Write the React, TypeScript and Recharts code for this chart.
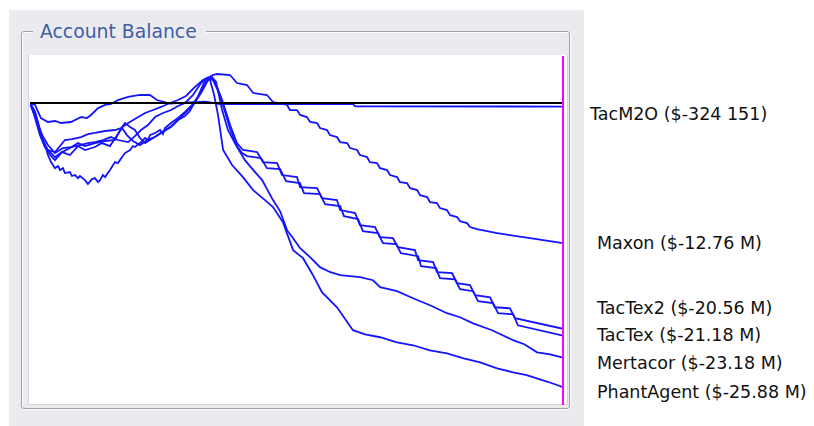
import React from 'react';
import { LineChart, Line, XAxis, YAxis, ReferenceLine } from 'recharts';

// ---- data (day of game, account balance in $ millions) ----
const seriesNames = ['TacM2O', 'Maxon', 'TacTex2', 'TacTex', 'Mertacor', 'PhantAgent'];
const finalBalances = ['$-324 151', '$-12.76 M', '$-20.56 M', '$-21.18 M', '$-23.18 M', '$-25.88 M'];
const gameDays = [0, 220];

const tacM2O: [number, number][] = [
  [0, 0], [2.1, -0.18], [4.5, -1.37], [7.4, -1.73], [10.3, -1.64], [12.8, -1.82], [16.9, -1.73],
  [21.1, -1.28], [23.5, -1.37], [25.2, -1.09], [28.1, -0.46], [31.0, -0.18], [33.5, -0.09],
  [36.3, 0.27], [40.5, 0.55], [45.4, 0.73], [49.5, 0.73], [52.4, 0.27], [57.8, -0.05], [66.0, 0.05],
  [72.2, 0.12], [78.4, -0.09], [133.3, -0.09], [134.2, -0.3], [220, -0.324],
];

const maxon: [number, number][] = [
  [0, 0], [2.1, -1.09], [4.1, -2.73], [6.2, -4.01], [8.3, -4.47], [10.3, -4.92], [13.2, -4.47],
  [16.5, -4.1], [19.8, -3.65], [22.7, -3.92], [26.8, -3.65], [31.0, -3.46], [35.1, -3.37],
  [37.2, -2.46], [39.2, -1.82], [41.3, -2.19], [43.3, -2.46], [45.4, -3.19], [47.5, -3.65],
  [50.8, -3.19], [54.1, -2.73], [58.2, -2.19], [61.1, -1.55], [64.0, -0.91], [67.3, -0.18],
  [70.6, 0.91], [73.5, 2.1], [75.5, 2.55], [77.2, 2.64], [82.6, 2.55], [85.4, 1.82], [89.6, 1.64],
  [92.1, 0.91], [97.8, 0.73], [100.3, 0.09], [106.1, -0.18], [107.3, -0.64], [110.2, -0.64],
  [111.5, -1.09], [114.3, -1.28], [115.6, -1.73], [118.5, -1.82], [119.7, -2.28], [122.6, -2.46],
  [123.8, -2.92], [126.7, -3.1], [128.0, -3.56], [130.9, -3.65], [132.1, -4.1], [135.0, -4.28],
  [136.2, -4.74], [139.1, -4.92], [140.3, -5.38], [143.2, -5.47], [144.5, -5.93], [147.4, -6.11],
  [148.6, -6.56], [151.5, -6.75], [152.7, -7.2], [155.6, -7.29], [156.9, -7.75], [159.8, -7.93],
  [161.0, -8.39], [163.9, -8.57], [165.1, -9.02], [168.0, -9.12], [169.2, -9.57], [172.1, -9.75],
  [173.4, -10.21], [176.3, -10.39], [177.5, -10.76], [180.4, -10.94], [181.6, -11.3], [184.5, -11.49],
  [192.8, -11.85], [206.4, -12.31], [220, -12.76],
];

const tacTex2: [number, number][] = [
  [0, 0], [2.1, -0.82], [4.5, -3.1], [7.4, -4.28], [10.3, -4.47], [12.4, -3.92], [14.4, -3.37],
  [17.3, -3.28], [21.1, -3.1], [23.9, -2.83], [26.8, -2.73], [31.0, -2.55], [35.1, -2.46],
  [37.6, -2.28], [40.5, -1.82], [43.3, -1.46], [47.5, -0.91], [50.8, -0.64], [54.1, -0.36],
  [57.8, 0], [61.1, 0.27], [64.4, 0.64], [68.1, 1.46], [71.4, 2.1], [73.9, 2.37], [76.4, 1.91],
  [79.3, 0.27], [82.6, -2.01], [85.4, -3.65], [87.9, -4.28], [93.7, -4.47], [96.2, -5.38],
  [102.0, -5.47], [104.0, -6.56], [110.2, -6.75], [111.5, -7.66], [118.5, -7.75], [120.5, -8.66],
  [126.7, -8.84], [128.0, -9.75], [134.2, -10.03], [136.2, -11.12], [142.4, -11.3], [144.5, -12.22],
  [149.8, -12.31], [151.9, -13.13], [158.9, -13.4], [160.2, -14.31], [166.4, -14.49], [168.0, -15.41],
  [174.2, -15.5], [176.3, -16.41], [181.6, -16.59], [183.7, -17.5], [189.9, -17.69], [191.9, -18.6],
  [198.1, -18.69], [200.2, -19.6], [220, -20.56],
];

const tacTex: [number, number][] = [
  [0, 0], [2.5, -1.37], [5.0, -2.92], [7.4, -3.83], [10.3, -4.56], [13.6, -4.1], [16.9, -4.01],
  [20.6, -3.83], [23.9, -3.65], [26.8, -3.56], [30.1, -3.37], [33.4, -3.1], [36.3, -3.37],
  [40.5, -3.56], [43.3, -3.01], [45.8, -2.46], [48.7, -2.01], [51.6, -1.28], [54.9, -0.91],
  [58.2, -0.64], [61.1, -0.27], [64.0, 0], [67.3, 0.73], [70.6, 1.82], [73.1, 2.28], [75.5, 2.1],
  [78.4, 0.73], [80.5, -0.82], [82.6, -2.37], [85.4, -3.92], [87.5, -4.56], [89.6, -4.83], [95.3, -5.02],
  [97.8, -5.93], [103.2, -6.02], [105.7, -7.11], [111.4, -7.29], [113.1, -8.21], [119.7, -8.3],
  [121.8, -9.21], [128.0, -9.39], [129.6, -10.3], [135.4, -10.57], [137.4, -11.67], [143.6, -11.85],
  [145.7, -12.76], [151.1, -12.85], [153.1, -13.67], [160.2, -13.95], [161.4, -14.86], [167.6, -15.04],
  [169.2, -15.95], [175.4, -16.05], [177.5, -16.95], [182.9, -17.14], [184.9, -18.05], [191.1, -18.23],
  [193.2, -19.14], [199.4, -19.24], [201.4, -20.24], [220, -21.18],
];

const mertacor: [number, number][] = [
  [0, 0], [1.7, -1.09], [4.1, -2.92], [6.2, -4.01], [8.3, -4.74], [10.3, -5.2], [13.2, -4.47],
  [16.5, -4.74], [19.8, -3.92], [22.7, -4.28], [26.8, -4.01], [29.7, -3.65], [33.0, -3.92],
  [35.5, -3.1], [38.0, -2.28], [40.0, -2.92], [42.5, -3.46], [45.4, -3.83], [48.3, -3.37],
  [51.6, -3.1], [54.5, -2.64], [57.8, -2.19], [61.1, -1.55], [64.0, -1.19], [66.0, -0.73],
  [67.3, -0.18], [70.2, 0.91], [72.7, 1.82], [74.7, 2.46], [76.8, 1.91], [79.3, -0.64], [81.7, -2.46],
  [85.0, -3.83], [88.7, -5.2], [92.9, -6.29], [95.8, -7.02], [100.3, -8.84], [103.2, -9.84],
  [106.1, -11.58], [108.6, -12.31], [111.5, -13.22], [115.6, -14.04], [119.7, -14.95], [124.0, -15.41],
  [128.0, -15.68], [132.1, -15.77], [136.2, -15.86], [141.6, -16.14], [144.5, -16.77], [151.5, -17.14],
  [158.1, -17.78], [165.1, -18.42], [172.1, -19.14], [177.5, -19.51], [182.9, -20.06], [190.7, -20.69],
  [199.4, -21.6], [204.0, -21.97], [209.3, -22.7], [214.7, -22.88], [220, -23.18],
];

const phantAgent: [number, number][] = [
  [0, 0], [2.1, -0.82], [3.3, -1.73], [4.5, -2.92], [6.2, -3.83], [7.4, -4.74], [8.7, -5.38],
  [10.3, -5.93], [11.6, -5.74], [12.4, -6.11], [13.6, -5.93], [14.4, -6.38], [16.5, -6.29],
  [17.3, -6.65], [18.6, -6.56], [19.8, -6.84], [20.6, -6.65], [22.7, -7.02], [23.9, -7.38],
  [25.6, -6.93], [26.8, -6.84], [28.1, -7.2], [28.9, -7.02], [30.1, -6.56], [31.0, -6.75],
  [33.0, -6.11], [35.1, -5.38], [36.3, -5.47], [38.0, -4.92], [39.2, -4.56], [41.3, -4.28],
  [42.5, -3.92], [43.3, -4.01], [45.4, -3.65], [47.5, -3.19], [48.7, -3.37], [49.5, -2.92],
  [51.6, -2.73], [53.7, -2.46], [54.9, -2.83], [55.7, -2.28], [58.2, -1.82], [61.1, -1.37],
  [64.0, -0.82], [66.9, -0.18], [69.3, 0.55], [71.4, 1.64], [73.1, 2.28], [74.3, 2.1], [76.0, 0.73],
  [77.6, -1.09], [79.7, -4.28], [83.4, -5.65], [87.9, -6.75], [92.1, -7.93], [97.0, -8.84],
  [100.3, -9.48], [104.4, -10.85], [108.6, -13.4], [112.7, -14.13], [116.8, -15.68], [120.5, -17.23],
  [126.7, -18.6], [133.3, -20.69], [138.3, -21.06], [144.5, -21.33], [151.5, -21.79], [158.1, -22.06],
  [165.1, -22.52], [172.1, -22.79], [179.0, -23.25], [185.8, -23.61], [192.8, -24.16], [199.4, -24.52],
  [205.0, -24.79], [210.5, -25.16], [215.5, -25.52], [220, -25.88],
];

const seriesPoints = [tacM2O, maxon, tacTex2, tacTex, mertacor, phantAgent];

// ---- layout (not data) ----
const labelLefts = [590, 597, 597, 597, 597, 597];
const labelCenters = [114, 243, 308, 335, 363, 392];

const PANEL = '#ebeaef';
const FONT = '"DejaVu Sans", Verdana, sans-serif';

export default function App() {
  const series = seriesPoints.map((pts, i) => ({
    name: seriesNames[i],
    data: pts.map(([day, v]) => ({ day, v })),
  }));

  return (
    <div style={{ position: 'absolute', left: 0, top: 0, width: 814, height: 426, background: '#ffffff', overflow: 'hidden', fontFamily: FONT }}>
      {/* gray panel */}
      <div style={{ position: 'absolute', left: 9, top: 10, width: 575, height: 416, background: PANEL }} />
      {/* group box etched border */}
      <div style={{ position: 'absolute', left: 21, top: 31, width: 547, height: 376, border: '1px solid #a3a3a6', borderRadius: 3, boxShadow: '1px 1px 0 #ffffff, inset 1px 1px 0 #ffffff' }} />
      {/* group title */}
      <div style={{ position: 'absolute', left: 33, top: 20, width: 173, height: 24, background: PANEL }} />
      <div style={{ position: 'absolute', left: 40, top: 21, fontSize: 18.8, lineHeight: '22px', color: '#3d5fa6', whiteSpace: 'nowrap' }}>Account Balance</div>
      {/* plot background */}
      <div style={{ position: 'absolute', left: 28, top: 55, width: 540, height: 350, boxSizing: 'border-box', background: '#ffffff', borderLeft: '1px solid #d6d6d8', borderRight: '1px solid #d6d6d8', borderBottom: '1px solid #d6d6d8' }} />
      <div style={{ position: 'absolute', left: 28, top: 55 }}>
        <LineChart width={539} height={350} margin={{ top: 1, right: 4, bottom: 0, left: 2 }}>
          <XAxis type="number" dataKey="day" domain={gameDays} hide allowDataOverflow />
          <YAxis type="number" domain={[-27.5, 4.28]} hide allowDataOverflow />
          {series.map((s) => (
            <Line
              key={s.name}
              name={s.name}
              data={s.data}
              dataKey="v"
              type="linear"
              stroke="#1414ff"
              strokeWidth={1.8}
              dot={false}
              activeDot={false}
              isAnimationActive={false}
            />
          ))}
          <ReferenceLine y={0} stroke="#000000" strokeWidth={1.8} />
          <ReferenceLine x={gameDays[1]} stroke="#ff00ff" strokeWidth={2} />
        </LineChart>
      </div>
      {/* end-of-line labels */}
      {seriesNames.map((n, i) => (
        <div key={n} style={{ position: 'absolute', left: labelLefts[i], top: labelCenters[i] - 10, fontSize: 17.5, lineHeight: '20px', color: '#111111', whiteSpace: 'nowrap' }}>
          {n} ({finalBalances[i]})
        </div>
      ))}
    </div>
  );
}
